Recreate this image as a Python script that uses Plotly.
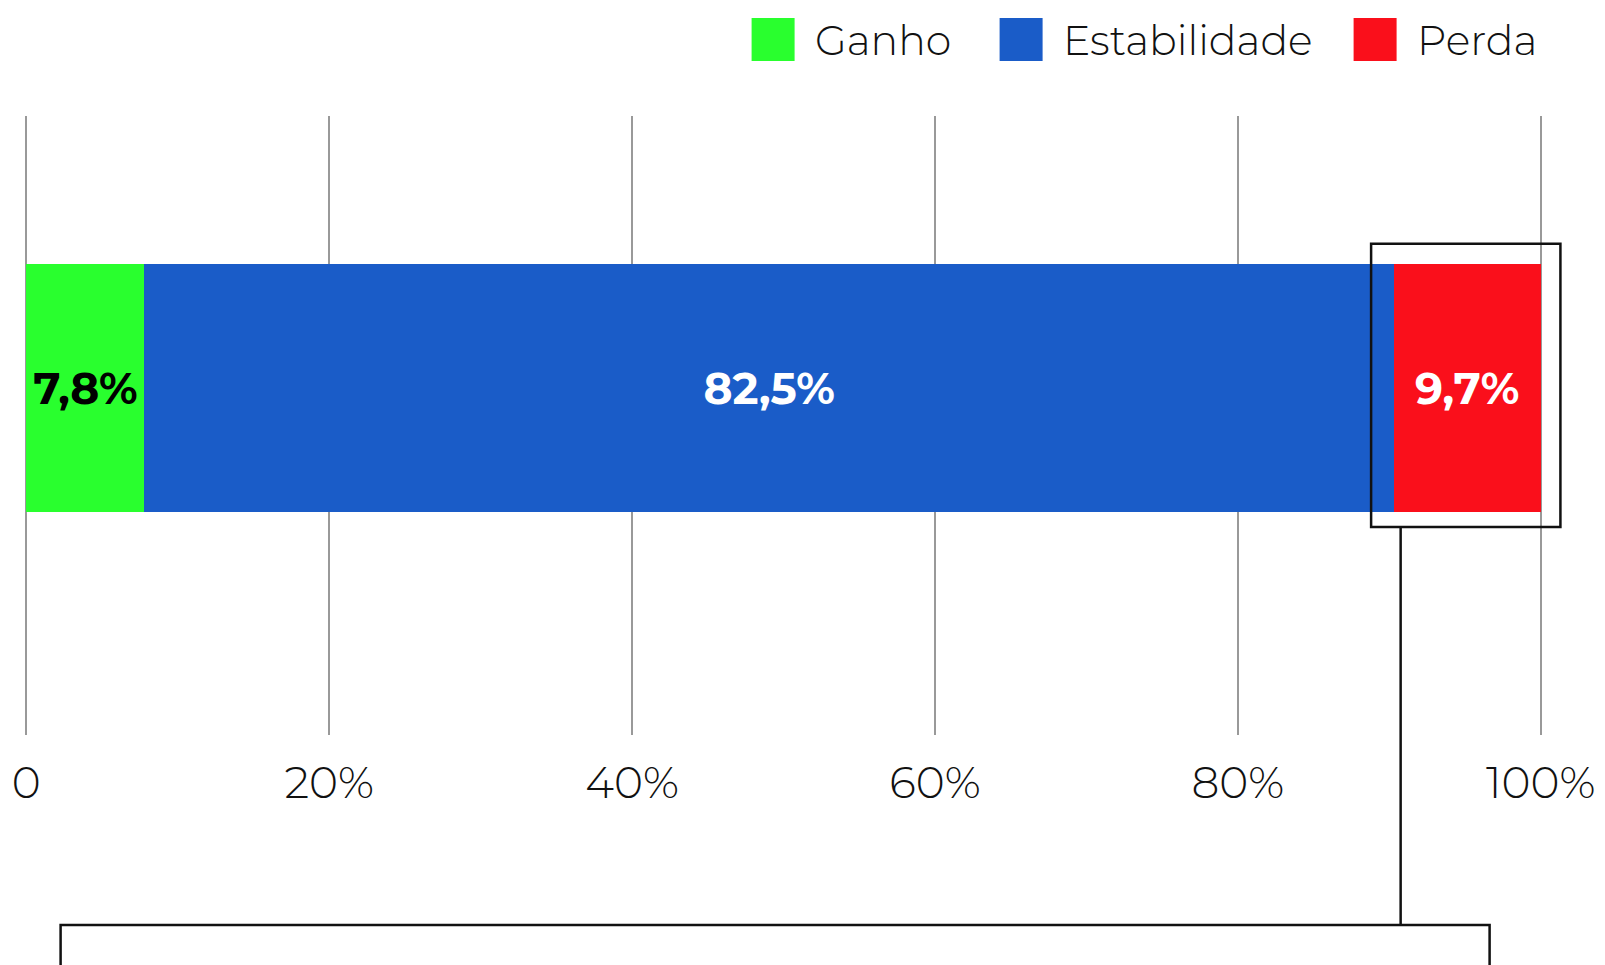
import plotly.graph_objects as go

# ---- data ----
series_names = ["Ganho", "Estabilidade", "Perda"]
series_values = [7.8, 82.5, 9.7]
series_colors = ["#29FF2E", "#1A5CC8", "#FA0F1B"]
label_colors = ["#000000", "#FFFFFF", "#FFFFFF"]
tick_vals = [0, 20, 40, 60, 80, 100]
tick_text = ["0", "20%", "40%", "60%", "80%", "100%"]

OFF = 8  # page body margin
W, H = 1605, 965
PW = 1519
L, T, B = 16.4, 116 - OFF, 230 + OFF
R = W - L - PW
PH = H - T - B
YR = [-0.5606, 0.4394]
XR = [-0.15, 100.15]

FONT = "Montserrat, Inter, Lato, sans-serif"

def px_x(px):
    return (px - OFF - L) / PW

def px_y(py):
    return (H - B - (py - OFF)) / PH

def dx(v):
    return (v - XR[0]) / (XR[1] - XR[0])

def dy(v):
    return (v - YR[0]) / (YR[1] - YR[0])

fig = go.Figure()
for name, val, col, lc in zip(series_names, series_values, series_colors, label_colors):
    fig.add_trace(go.Bar(
        y=[0], x=[val], name=name, orientation="h", width=0.4018,
        marker=dict(color=col, line=dict(width=0)),
        texttemplate="<b>%{x:.1f}%</b>", textposition="inside",
        insidetextanchor="middle", constraintext="none",
        textfont=dict(family=FONT, size=44, color=lc, weight=700),
        hoverinfo="skip", showlegend=False,
    ))

shapes = []
annotations = []
# manual legend
leg_sq_x = [752, 1000, 1354]
for name, col, sx in zip(series_names, series_colors, leg_sq_x):
    shapes.append(dict(type="rect", xref="paper", yref="paper",
                       x0=px_x(sx), x1=px_x(sx + 43), y0=px_y(18), y1=px_y(61),
                       fillcolor=col, line=dict(width=0)))
    annotations.append(dict(xref="paper", yref="paper", x=px_x(sx + 61), y=px_y(40),
                            text=name, showarrow=False, xanchor="left", yanchor="middle",
                            font=dict(family=FONT, size=41, color="#111", weight=300)))

# callout around the last segment
red_start = sum(series_values[:-1])
half = 0.4018 / 2
bx0, bx1 = dx(red_start - 1.5), dx(100 + 1.3)
by1, by0 = dy(half + 0.0323), dy(-half - 0.0236)
shapes.append(dict(type="rect", xref="paper", yref="paper", x0=bx0, x1=bx1, y0=by0, y1=by1,
                   line=dict(color="#111", width=2.5), fillcolor="rgba(0,0,0,0)"))
lx = dx(red_start + 0.45)
shapes.append(dict(type="line", xref="paper", yref="paper", x0=lx, x1=lx, y0=by0, y1=px_y(925),
                   line=dict(color="#111", width=2.5)))
shapes.append(dict(type="rect", xref="paper", yref="paper", x0=px_x(61), x1=px_x(1490),
                   y0=px_y(1010), y1=px_y(925),
                   line=dict(color="#111", width=2.5), fillcolor="rgba(0,0,0,0)"))

fig.update_layout(
    width=W, height=H, barmode="stack", separators=",.",
    margin=dict(l=L, r=R, t=T, b=B, pad=0, autoexpand=False),
    plot_bgcolor="white", paper_bgcolor="white",
    showlegend=False, shapes=shapes, annotations=annotations,
    xaxis=dict(range=XR, tickvals=tick_vals, ticktext=tick_text, automargin=False,
               showgrid=True, gridcolor="#999", gridwidth=1.5, zeroline=False,
               showline=False, ticks="outside", ticklen=9, tickcolor="rgba(0,0,0,0)",
               tickfont=dict(family=FONT, size=44, color="#111", weight=300)),
    yaxis=dict(range=YR, showgrid=False, zeroline=False, showticklabels=False,
               showline=False, automargin=False),
)
fig.write_html("out.html")
